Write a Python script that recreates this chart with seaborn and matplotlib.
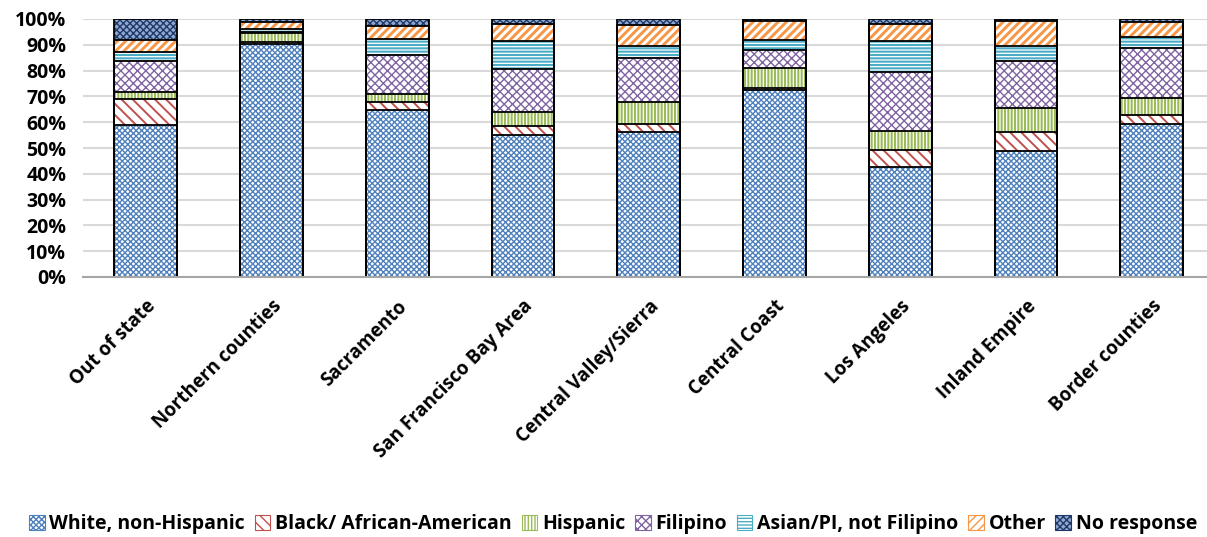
import numpy as np
import seaborn as sns
import matplotlib.pyplot as plt
from matplotlib.patches import Patch

regions = ['Out of state', 'Northern counties', 'Sacramento', 'San Francisco Bay Area',
           'Central Valley/Sierra', 'Central Coast', 'Los Angeles', 'Inland Empire',
           'Border counties']

groups = ['White, non-Hispanic', 'Black/ African-American', 'Hispanic', 'Filipino',
          'Asian/PI, not Filipino', 'Other', 'No response']

# percent of respondents in each region
white = [59.0, 90.4, 64.7, 55.2, 56.2, 72.4, 42.5, 48.7, 59.3]
black = [10.1, 0.6, 3.3, 3.2, 3.2, 1.0, 6.9, 7.4, 3.6]
hispanic = [2.6, 3.4, 3.1, 5.4, 8.3, 7.5, 7.3, 9.3, 6.6]
filipino = [11.9, 0.7, 14.9, 16.9, 17.3, 7.1, 22.6, 18.2, 19.4]
asian = [3.5, 0.9, 6.4, 10.9, 4.7, 4.0, 12.3, 5.9, 4.0]
other = [4.9, 2.8, 5.0, 6.6, 8.0, 7.2, 6.3, 9.6, 6.1]
no_response = [8.0, 1.2, 2.6, 1.8, 2.3, 0.8, 2.1, 0.9, 1.0]

series = [white, black, hispanic, filipino, asian, other, no_response]

# pattern styles: (face, hatch colour, hatch, hatch line width)
styles = [('white', '#4F81BD', 'xxxxxx', 1.0),
          ('white', '#C0504D', '\\\\\\', 1.4),
          ('white', '#9BBB59', '|||||', 1.5),
          ('white', '#8064A2', 'xxxx', 1.0),
          ('white', '#4BACC6', '-----', 1.5),
          ('white', '#F79646', '////', 2.1),
          ('#8FA8D4', '#1F3864', 'xxxxx', 1.0)]

plt.rcParams['font.family'] = ['Open Sans', 'DejaVu Sans']
plt.rcParams['font.weight'] = 'bold'

fig = plt.figure(figsize=(12.07, 5.37), dpi=100)
ax = fig.add_axes([83 / 1207, 1 - 277 / 537, 1 - 83 / 1207, 258 / 537])

cum = np.cumsum(np.array(series), axis=0)

# draw cumulative totals tallest first so each lower segment sits on top
for i in range(len(series) - 1, -1, -1):
    face, hc, hatch, hlw = styles[i]
    with plt.rc_context({'hatch.linewidth': hlw}):
        sns.barplot(x=regions, y=cum[i], color=face, saturation=1, width=0.5,
                    edgecolor=hc, hatch=hatch, linewidth=0, ax=ax)
for i in range(len(series) - 1, -1, -1):
    sns.barplot(x=regions, y=cum[i], color='black', fill=False, width=0.5,
                linewidth=1.3, ax=ax)

ax.set_ylim(0, 100)
ax.set_xlim(-0.5, 8.44)
ax.set_yticks(range(0, 101, 10))
ax.set_yticklabels([f'{v}%' for v in range(0, 101, 10)], fontsize=14, fontweight='bold')
ax.set_xticks(range(len(regions)))
ax.set_xticklabels(regions, rotation=45, ha='right', rotation_mode='anchor',
                   fontsize=13.5, fontweight='bold')
ax.tick_params(axis='y', length=0, pad=12)
ax.tick_params(axis='x', length=0, pad=14)
ax.set_xlabel('')
ax.set_ylabel('')
ax.grid(axis='y', color='#D9D9D9', linewidth=1.5)
ax.set_axisbelow(True)
for s in ['top', 'right', 'left']:
    ax.spines[s].set_visible(False)
ax.spines['bottom'].set_color('#A6A6A6')
ax.spines['bottom'].set_linewidth(1.5)
ax.spines['bottom'].set_zorder(5)

handles = []
for face, hc, hatch, hlw in styles:
    with plt.rc_context({'hatch.linewidth': hlw}):
        handles.append(Patch(facecolor=face, edgecolor=hc, hatch=hatch, linewidth=0.8))
fig.legend(handles, groups, loc='center', bbox_to_anchor=(0.508, 1 - 524 / 537),
           ncol=7, frameon=False, handlelength=0.8, handleheight=0.8,
           handletextpad=0.25, columnspacing=0.5, prop={'weight': 'bold', 'size': 14})

plt.savefig('out.png', dpi=100)
